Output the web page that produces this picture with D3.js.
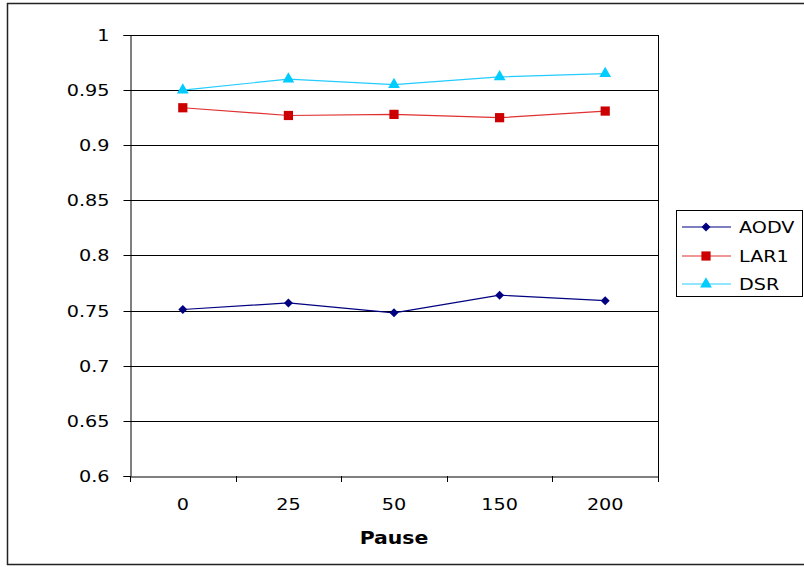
<!DOCTYPE html>
<html>
<head>
<meta charset="utf-8">
<script src="https://cdn.jsdelivr.net/npm/d3@7/dist/d3.min.js"></script>
<style>
  body { margin: 0; background: #fff; }
  text { font-family: "DejaVu Sans", Verdana, sans-serif; fill: #000; }
</style>
</head>
<body>
<div id="chart"></div>
<script>
var categories = ["0", "25", "50", "150", "200"];
var aodv = [0.751, 0.757, 0.748, 0.764, 0.759];
var lar1 = [0.934, 0.927, 0.928, 0.925, 0.931];
var dsr = [0.950, 0.960, 0.955, 0.962, 0.965];
var yTicks = [0.6, 0.65, 0.7, 0.75, 0.8, 0.85, 0.9, 0.95, 1];
var seriesNames = ["AODV", "LAR1", "DSR"];

var W = 804, H = 567;
var plot = { left: 130, right: 658, top: 35, bottom: 476 };
var stretch = 1.2; // text in the picture is drawn wide

var svg = d3.select("#chart").append("svg")
    .attr("width", W)
    .attr("height", H);

// chart area border
svg.append("rect")
    .attr("x", 7.5).attr("y", 3.5)
    .attr("width", 810).attr("height", 561)
    .attr("fill", "#fff")
    .attr("stroke", "#222")
    .attr("stroke-width", 1.5);

var x = d3.scaleBand().domain(categories).range([plot.left, plot.right]);
var y = d3.scaleLinear().domain([0.6, 1]).range([plot.bottom, plot.top]);

// gridlines
svg.append("g").selectAll("line")
    .data(yTicks.slice(1))
    .enter().append("line")
    .attr("x1", plot.left).attr("x2", plot.right)
    .attr("y1", function(d) { return Math.round(y(d)) + 0.5; })
    .attr("y2", function(d) { return Math.round(y(d)) + 0.5; })
    .attr("stroke", "#000").attr("stroke-width", 1);

// right border of plot area
svg.append("line")
    .attr("x1", plot.right + 0.5).attr("x2", plot.right + 0.5)
    .attr("y1", plot.top).attr("y2", plot.bottom)
    .attr("stroke", "#000");

// y axis
var yAxis = svg.append("g")
    .attr("transform", "translate(" + (plot.left + 0.5) + ",0)")
    .call(d3.axisLeft(y).tickValues(yTicks).tickSize(7).tickPadding(10.5)
      .tickFormat(function(d) { return d3.format("")(+d.toFixed(2)); }));
yAxis.select(".domain").attr("stroke", "#000");
yAxis.selectAll(".tick line").attr("stroke", "#000");
yAxis.selectAll("text").style("font-size", "16px")
    .attr("transform", "scale(" + stretch + ",1)");
yAxis.selectAll(".tick").attr("transform", function(d) {
  return "translate(0," + (Math.round(y(d)) + 0.5) + ")";
});

// x axis
var xAxis = svg.append("g")
    .attr("transform", "translate(0," + (plot.bottom + 0.5) + ")")
    .call(d3.axisBottom(x).tickSize(0).tickPadding(22));
xAxis.select(".domain").attr("stroke", "#000");
xAxis.selectAll("text").style("font-size", "16px")
    .attr("transform", "scale(" + stretch + ",1)");

// x tick marks between categories
var bounds = categories.map(function(c) { return x(c); }).concat([plot.right]);
svg.append("g").selectAll("line")
    .data(bounds)
    .enter().append("line")
    .attr("x1", function(d) { return Math.round(d) + 0.5; })
    .attr("x2", function(d) { return Math.round(d) + 0.5; })
    .attr("y1", plot.bottom).attr("y2", plot.bottom + 6)
    .attr("stroke", "#000");

svg.append("text")
    .attr("transform", "translate(394,544) scale(" + stretch + ",1)")
    .attr("text-anchor", "middle")
    .style("font-size", "17px")
    .style("font-weight", "bold")
    .text("Pause");

// diamond = square turned 45 degrees
var series = [
  { name: "AODV", values: aodv, line: "#000080", fill: "#000080", shape: d3.symbolSquare, size: 40, rot: 45 },
  { name: "LAR1", values: lar1, line: "#e03030", fill: "#cc0000", shape: d3.symbolSquare, size: 85, rot: 0 },
  { name: "DSR", values: dsr, line: "#22ccff", fill: "#00ccff", shape: d3.symbolTriangle, size: 60, rot: 0 }
];

var line = d3.line()
    .x(function(d, i) { return x(categories[i]) + x.bandwidth() / 2; })
    .y(function(d) { return y(d); });

series.forEach(function(s) {
  svg.append("path")
      .datum(s.values)
      .attr("d", line)
      .attr("fill", "none")
      .attr("stroke", s.line)
      .attr("stroke-width", 1.2);
  svg.append("g").selectAll("path")
      .data(s.values)
      .enter().append("path")
      .attr("d", d3.symbol().type(s.shape).size(s.size))
      .attr("transform", function(d, i) {
        return "translate(" + (x(categories[i]) + x.bandwidth() / 2) + "," + y(d) + ") rotate(" + s.rot + ")";
      })
      .attr("fill", s.fill);
});

// legend
var legend = svg.append("g");
legend.append("rect")
    .attr("x", 676.5).attr("y", 210.5)
    .attr("width", 126).attr("height", 86)
    .attr("fill", "#fff").attr("stroke", "#000");

var legY = [227, 256, 284];
series.forEach(function(s, i) {
  var g = legend.append("g").attr("transform", "translate(0," + legY[i] + ")");
  g.append("line").attr("x1", 682).attr("x2", 731).attr("y1", 0).attr("y2", 0)
      .attr("stroke", s.line).attr("stroke-width", 1.2);
  g.append("path")
      .attr("d", d3.symbol().type(s.shape).size(s.size))
      .attr("transform", "translate(706,0) rotate(" + s.rot + ")")
      .attr("fill", s.fill);
  g.append("text")
      .attr("transform", "translate(739,6) scale(" + stretch + ",1)")
      .style("font-size", "16px")
      .text(seriesNames[i]);
});
</script>
</body>
</html>
